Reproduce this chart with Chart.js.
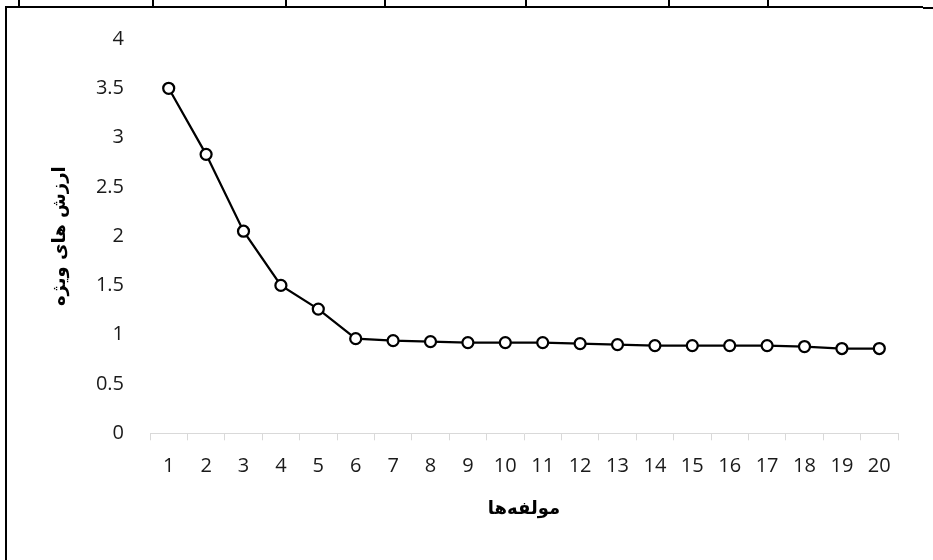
<!DOCTYPE html>
<html>
<head>
<meta charset="utf-8">
<script src="https://cdn.jsdelivr.net/npm/chart.js@4/dist/chart.umd.min.js"></script>
<style>
  body { margin: 0; background: #fff; }
  #wrap { position: relative; width: 933px; height: 560px; overflow: hidden; }
  #mixedChart { position: absolute; left: 0; top: 0; }
  .rule { position: absolute; background: #000; }
</style>
</head>
<body>
<div id="wrap">
  <!-- table frame left over around the figure -->
  <div class="rule" style="left:5px; top:6px; width:918px; height:2px;"></div>
  <div class="rule" style="left:923px; top:7px; width:10px; height:2px;"></div>
  <div class="rule" style="left:5px; top:6px; width:2px; height:554px;"></div>
  <div class="rule" style="left:18px; top:0; width:2px; height:7px;"></div>
  <div class="rule" style="left:152px; top:0; width:2px; height:7px;"></div>
  <div class="rule" style="left:285px; top:0; width:2px; height:7px;"></div>
  <div class="rule" style="left:384px; top:0; width:2px; height:7px;"></div>
  <div class="rule" style="left:525px; top:0; width:2px; height:7px;"></div>
  <div class="rule" style="left:668px; top:0; width:2px; height:7px;"></div>
  <div class="rule" style="left:767px; top:0; width:2px; height:7px;"></div>
  <canvas id="mixedChart" width="933" height="560"></canvas>
</div>
<script>
// components (x axis)
var components = ['1', '2', '3', '4', '5', '6', '7', '8', '9', '10',
                  '11', '12', '13', '14', '15', '16', '17', '18', '19', '20'];
// eigenvalues
var eigenvalues = [3.50, 2.83, 2.05, 1.50, 1.26, 0.96, 0.94, 0.93, 0.92, 0.92,
                   0.92, 0.91, 0.90, 0.89, 0.89, 0.89, 0.89, 0.88, 0.86, 0.86];
// y tick labels
var yTickLabels = ['0', '0.5', '1', '1.5', '2', '2.5', '3', '3.5', '4'];

var xTitle = 'مولفه‌ها';
var yTitle = 'ارزش های ویژه';

var tickFont = { family: "'Open Sans', 'DejaVu Sans', sans-serif", size: 20 };
var titleFont = { family: "'DejaVu Sans', sans-serif", size: 18, weight: 'bold' };

var ctx = document.getElementById('mixedChart').getContext('2d');
var myChart = new Chart(ctx, {
  type: 'line',
  data: {
    labels: components,
    datasets: [{
      label: 'eigenvalues',
      data: eigenvalues,
      borderColor: '#000',
      borderWidth: 2.25,
      pointRadius: 5.5,
      pointBorderWidth: 2.25,
      pointBackgroundColor: '#fff',
      pointBorderColor: '#000',
      tension: 0
    }]
  },
  options: {
    responsive: false,
    animation: false,
    layout: { padding: { left: 46, right: 35, top: 39, bottom: 36 } },
    plugins: { legend: { display: false }, tooltip: { enabled: false } },
    scales: {
      x: {
        offset: true,
        grid: { offset: true, drawOnChartArea: false, drawTicks: true, tickLength: 7, color: '#d9d9d9' },
        border: { display: true, color: '#d9d9d9', width: 1 },
        ticks: { color: '#1a1a1a', font: tickFont, padding: 14, maxRotation: 0, autoSkip: false },
        title: { display: true, text: xTitle, color: '#000', font: titleFont, padding: { top: 4, bottom: 4 } },
        afterFit: function (scale) { scale.height = 560 - 36 - 433.3; }
      },
      y: {
        min: 0,
        max: 4,
        grid: { display: false, drawTicks: false },
        border: { display: false },
        ticks: {
          stepSize: 0.5,
          color: '#1a1a1a',
          font: tickFont,
          padding: 26,
          callback: function (value, index) { return yTickLabels[index]; }
        },
        title: { display: true, text: yTitle, color: '#000', font: titleFont, padding: { top: 4, bottom: 4 } },
        afterFit: function (scale) { scale.width = 150 - 46; }
      }
    }
  }
});
</script>
</body>
</html>
